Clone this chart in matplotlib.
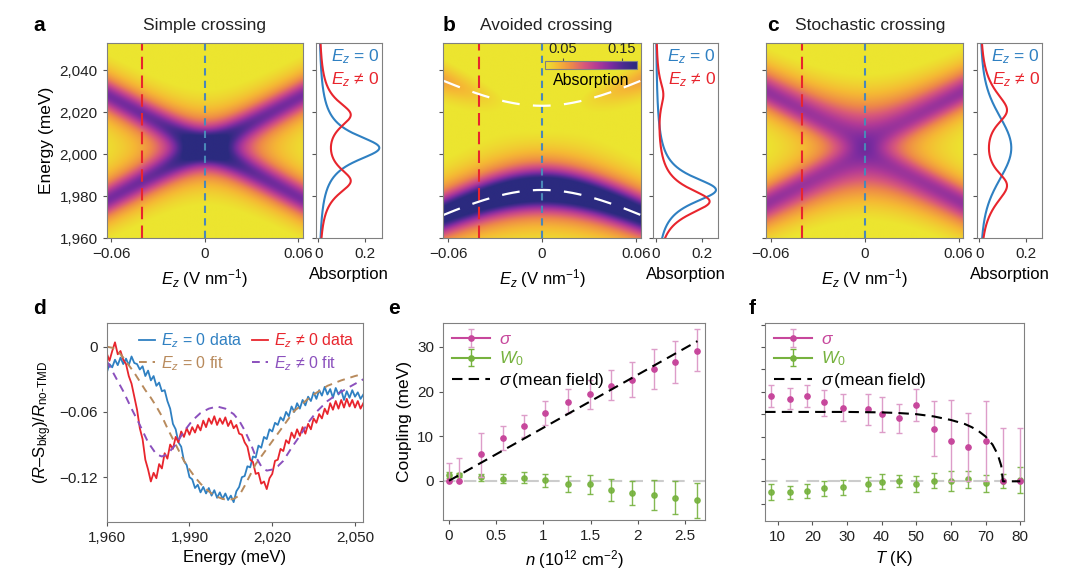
import numpy as np
import matplotlib
matplotlib.use('Agg')
import matplotlib.pyplot as plt
from matplotlib.colors import LinearSegmentedColormap
from matplotlib.ticker import FuncFormatter

plt.rcParams['font.family'] = ['Liberation Sans', 'DejaVu Sans']
plt.rcParams['mathtext.fontset'] = 'custom'
plt.rcParams['mathtext.rm'] = 'Liberation Sans'
plt.rcParams['mathtext.it'] = 'Liberation Sans:italic'
plt.rcParams['mathtext.bf'] = 'Liberation Sans:bold'
plt.rcParams['font.size'] = 11
plt.rcParams['axes.edgecolor'] = '#808080'
plt.rcParams['axes.linewidth'] = 0.8
plt.rcParams['xtick.color'] = '#555555'
plt.rcParams['ytick.color'] = '#555555'
plt.rcParams['xtick.labelcolor'] = '#222222'
plt.rcParams['ytick.labelcolor'] = '#222222'

# ---- model parameters for the absorption maps (a-c)
E0 = 2003.0          # crossing energy (meV)
stark = 395.0        # Stark shift (meV per V/nm)
gamma = 8.0          # half linewidth (meV)
amp = 0.13           # peak absorption of one exciton
J_avoided = 20.0     # coupling, avoided crossing (meV)
sigma_stoch = 12.0   # spread of the coupling, stochastic crossing (meV)
ez_cut = -0.04       # field of the red cut (V/nm)
ez_lim = (-0.063, 0.063)
e_lim = (1960, 2053)
abs_vmin, abs_vmax = 0.02, 0.175

# ---- panel d: reflectance spectra
d_energy = list(range(1960, 2054))
d_blue = [-0.024, -0.016, -0.019, -0.012, -0.017, -0.010, -0.016, -0.011, -0.017, -0.009,
          -0.015, -0.016, -0.021, -0.018, -0.027, -0.022, -0.031, -0.027, -0.036, -0.033,
          -0.041, -0.040, -0.050, -0.057, -0.071, -0.076, -0.088, -0.092, -0.105, -0.109,
          -0.120, -0.122, -0.130, -0.127, -0.134, -0.129, -0.135, -0.130, -0.137, -0.132,
          -0.139, -0.134, -0.140, -0.135, -0.141, -0.137, -0.143, -0.133, -0.129, -0.120,
          -0.119, -0.110, -0.111, -0.101, -0.102, -0.091, -0.093, -0.083, -0.085, -0.076,
          -0.078, -0.070, -0.072, -0.065, -0.068, -0.060, -0.064, -0.055, -0.060, -0.052,
          -0.057, -0.049, -0.054, -0.046, -0.050, -0.042, -0.048, -0.040, -0.045, -0.037,
          -0.044, -0.039, -0.047, -0.038, -0.044, -0.040, -0.049, -0.041, -0.047, -0.040,
          -0.046, -0.042, -0.048, -0.044]
d_red = [-0.006, -0.013, -0.004, 0.004, -0.007, -0.004, -0.012, -0.016, -0.027, -0.034,
         -0.046, -0.058, -0.075, -0.085, -0.104, -0.113, -0.124, -0.116, -0.121, -0.108,
         -0.112, -0.098, -0.103, -0.090, -0.094, -0.083, -0.088, -0.078, -0.083, -0.075,
         -0.081, -0.074, -0.079, -0.072, -0.077, -0.068, -0.074, -0.066, -0.071, -0.064,
         -0.072, -0.066, -0.071, -0.065, -0.073, -0.068, -0.075, -0.072, -0.080, -0.081,
         -0.088, -0.092, -0.104, -0.106, -0.117, -0.116, -0.126, -0.124, -0.131, -0.121,
         -0.117, -0.105, -0.104, -0.094, -0.096, -0.086, -0.089, -0.079, -0.084, -0.076,
         -0.082, -0.074, -0.080, -0.071, -0.076, -0.066, -0.070, -0.062, -0.066, -0.057,
         -0.062, -0.052, -0.058, -0.050, -0.057, -0.049, -0.056, -0.048, -0.055, -0.049,
         -0.056, -0.050, -0.057, -0.052]
fit0_energy = [1960, 1962, 1964, 1966, 1968, 1970, 1972, 1974, 1976, 1978, 1980, 1982, 1984,
               1986, 1988, 1990, 1992, 1994, 1996, 1998, 2000, 2002, 2004, 2006, 2008, 2010,
               2012, 2014, 2016, 2018, 2020, 2022, 2024, 2026, 2028, 2030, 2032, 2035, 2040,
               2045, 2050, 2053]
fit0 = [0.0, -0.001, -0.004, -0.010, -0.017, -0.024, -0.032, -0.040, -0.047, -0.055, -0.064,
        -0.075, -0.085, -0.095, -0.105, -0.113, -0.120, -0.126, -0.131, -0.135, -0.138, -0.140,
        -0.141, -0.140, -0.137, -0.128, -0.118, -0.108, -0.101, -0.094, -0.087, -0.080, -0.073,
        -0.066, -0.059, -0.055, -0.050, -0.044, -0.036, -0.031, -0.027, -0.025]
fit1_energy = [1960, 1963, 1966, 1969, 1972, 1975, 1978, 1980, 1982, 1985, 1988, 1991, 1994,
               1997, 2000, 2003, 2006, 2008, 2010, 2012, 2014, 2016, 2018, 2020, 2022, 2024,
               2027, 2030, 2033, 2036, 2040, 2044, 2048, 2053]
fit1 = [-0.013, -0.027, -0.041, -0.057, -0.072, -0.088, -0.099, -0.101, -0.099, -0.090, -0.078,
        -0.068, -0.061, -0.057, -0.055, -0.057, -0.062, -0.068, -0.077, -0.088, -0.101, -0.110,
        -0.114, -0.113, -0.110, -0.105, -0.093, -0.082, -0.070, -0.060, -0.050, -0.043, -0.037,
        -0.030]

# ---- panel e: coupling vs density
e_n = [0, 0.11, 0.34, 0.57, 0.79, 1.02, 1.26, 1.49, 1.71, 1.94, 2.17, 2.39, 2.62]
e_sigma = [0, 0, 6.0, 9.65, 12.2, 15.3, 17.7, 19.4, 21.3, 22.7, 25.0, 26.7, 29.2]
e_sigma_lo = [0, 0, 5.1, 2.65, 2.3, 2.8, 2.6, 3.4, 3.3, 3.9, 4.5, 4.7, 4.7]
e_sigma_hi = [4.0, 5.0, 4.8, 2.65, 2.5, 2.5, 2.9, 3.3, 3.5, 3.9, 4.5, 4.7, 4.8]
e_w0 = [1.3, 1.3, 0.75, 0.45, 0.7, 0.15, -0.7, -0.8, -2.1, -2.7, -3.2, -3.8, -4.4]
e_w0_err = [0.6, 0.5, 0.8, 1.0, 1.2, 1.45, 1.8, 2.2, 2.4, 2.7, 3.35, 3.7, 4.0]
e_mf_n = [0, 2.63]
e_mf_sigma = [0, 31.3]

# ---- panel f: coupling vs temperature
f_T = [8, 13.5, 18.6, 23.5, 29, 36, 40, 45, 50, 55, 60, 65, 70, 75, 80]
f_sigma = [19.0, 18.5, 19.0, 17.65, 16.45, 16.1, 15.0, 14.1, 17.05, 11.75, 9.1, 7.6, 9.0, 0, 0]
f_sigma_lo = [2.4, 2.4, 2.4, 3.0, 3.05, 3.45, 3.9, 3.25, 3.55, 6.15, 9.1, 7.6, 9.0, 0, 0]
f_sigma_hi = [2.6, 2.4, 2.5, 2.85, 3.0, 3.4, 3.9, 3.2, 3.55, 6.25, 9.15, 7.7, 9.0, 12.0, 12.0]
f_w0 = [-2.4, -2.4, -2.2, -1.6, -1.3, -0.6, -0.1, 0.1, -0.6, 0.15, 0.0, 0.45, -0.45, 0.0, 0.3]
f_w0_err = [1.7, 1.45, 1.6, 1.7, 1.65, 1.65, 1.7, 1.4, 1.8, 1.7, 2.2, 1.9, 1.95, 1.6, 3.0]
f_mf_T = [6.4, 20, 30, 40, 45, 50, 55, 60, 64, 66, 68, 70, 72, 73.5, 74.5, 75, 80]
f_mf_sigma = [15.5, 15.5, 15.5, 15.4, 15.25, 15.0, 14.5, 13.7, 12.8, 12.1, 11.2, 10.0, 8.2,
              6.0, 3.5, 0, 0]

# colours
BLUE = '#2f80c2'
RED = '#e8252d'
BROWN = '#b88a5c'
PURPLE = '#8b50bd'
PINK = '#c7479c'
GREEN = '#76b23e'
cmap = LinearSegmentedColormap.from_list('absn', ['#ece52f', '#f5b834', '#ee8a48', '#d8587a',
                                                  '#b23a96', '#7e2ca0', '#4a2a90', '#2b2a7f'])


def absorption(ez, energy, J):
    split = np.hypot(stark * ez, J)
    Jb = J * np.ones_like(split)
    ratio = np.divide(Jb, split, out=np.zeros_like(split), where=split > 0)
    lo = (1 + ratio) * amp / (1 + ((energy - (E0 - split)) / gamma) ** 2)
    hi = (1 - ratio) * amp / (1 + ((energy - (E0 + split)) / gamma) ** 2)
    return lo + hi


def panel_map(kind, ez, energy):
    if kind == 'simple':
        return absorption(ez, energy, 0.0)
    if kind == 'avoided':
        return absorption(ez, energy, J_avoided)
    J = np.linspace(-4 * sigma_stoch, 4 * sigma_stoch, 81)[:, None, None]
    w = np.exp(-0.5 * (J / sigma_stoch) ** 2)
    w = w / w.sum()
    return (w * absorption(ez, energy, J)).sum(axis=0)


def fmt_num(v, _=None):
    if abs(v) < 1e-12:
        return '0'
    s = '{:g}'.format(v)
    return s.replace('-', '\u2212')


comma_fmt = FuncFormatter(lambda v, _: '{:,.0f}'.format(v))
LAB = 12

fig = plt.figure(figsize=(10.8, 5.7), dpi=100)

ez = np.linspace(ez_lim[0], ez_lim[1], 300)[None, :]
energy = np.linspace(e_lim[0], e_lim[1], 400)[:, None]
energy_1d = energy[:, 0]

heat_pos = [[0.0988, 0.5819, 0.1815, 0.3432], [0.4105, 0.5819, 0.1828, 0.3432],
            [0.7093, 0.5819, 0.1827, 0.3432]]
side_pos = [[0.2923, 0.5819, 0.0611, 0.3432], [0.6044, 0.5819, 0.0607, 0.3432],
            [0.9043, 0.5819, 0.0607, 0.3432]]
kinds = ['simple', 'avoided', 'stochastic']
titles = ['Simple crossing', 'Avoided crossing', 'Stochastic crossing']
letters = ['a', 'b', 'c']
title_x = [0.189, 0.444, 0.736]
title_ha = ['center', 'left', 'left']
letter_x = [0.031, 0.410, 0.710]

for i, kind in enumerate(kinds):
    ax = fig.add_axes(heat_pos[i])
    Z = panel_map(kind, ez, energy)
    im = ax.imshow(Z, extent=[ez_lim[0], ez_lim[1], e_lim[0], e_lim[1]], origin='lower',
                   aspect='auto', cmap=cmap, vmin=abs_vmin, vmax=abs_vmax,
                   interpolation='bilinear')
    ax.axvline(ez_cut, color=RED, lw=1.5, dashes=(6, 3))
    ax.axvline(0, color='#4a88b8', lw=1.5, dashes=(3.5, 2.5))
    if kind == 'avoided':
        ez_line = np.linspace(ez_lim[0], ez_lim[1], 200)
        br = np.hypot(stark * ez_line, J_avoided)
        ax.plot(ez_line, E0 + br, color='white', lw=1.6, dashes=(8, 6))
        ax.plot(ez_line, E0 - br, color='white', lw=1.6, dashes=(8, 6))
        cax = fig.add_axes([0.5046, 0.8784, 0.0849, 0.0151])
        cb = fig.colorbar(im, cax=cax, orientation='horizontal', ticks=[0.05, 0.15])
        cax.xaxis.set_ticks_position('top')
        cax.xaxis.set_major_formatter(FuncFormatter(fmt_num))
        cax.tick_params(length=2.5, labelsize=10.5, pad=1)
        cb.outline.set_linewidth(0.8)
        cax.text(0.5, -0.45, 'Absorption', transform=cax.transAxes, ha='center', va='top',
                 fontsize=11.5)
    ax.set_xlim(ez_lim)
    ax.set_ylim(e_lim)
    ax.set_xticks([-0.06, 0, 0.06])
    ax.xaxis.set_major_formatter(FuncFormatter(fmt_num))
    ax.set_yticks([1960, 1980, 2000, 2020, 2040])
    if i == 0:
        ax.yaxis.set_major_formatter(comma_fmt)
        ax.set_ylabel('Energy (meV)', fontsize=LAB + 0.5)
    else:
        ax.set_yticklabels([])
    ax.set_xlabel(r'$E_z$ (V nm$^{-1}$)', fontsize=LAB)
    ax.tick_params(length=3)

    sax = fig.add_axes(side_pos[i])
    spec0 = panel_map(kind, np.array([[0.0]]), energy)[:, 0]
    spec1 = panel_map(kind, np.array([[ez_cut]]), energy)[:, 0]
    sax.plot(spec0, energy_1d, color=BLUE, lw=1.5)
    sax.plot(spec1, energy_1d, color=RED, lw=1.5)
    sax.set_ylim(e_lim)
    sax.set_xlim(-0.012, 0.27)
    sax.set_xticks([0, 0.2])
    sax.xaxis.set_major_formatter(FuncFormatter(fmt_num))
    sax.set_yticks([1960, 1980, 2000, 2020, 2040])
    sax.set_yticklabels([])
    sax.tick_params(length=3)
    sax.set_xlabel('Absorption', fontsize=LAB)
    sax.text(0.97, 0.975, r'$E_z$ = 0', color=BLUE, transform=sax.transAxes, ha='right',
             va='top', fontsize=12.5)
    sax.text(0.97, 0.86, r'$E_z$ ≠ 0', color=RED, transform=sax.transAxes, ha='right',
             va='top', fontsize=12.5)

    fig.text(letter_x[i], 0.956, letters[i], fontsize=15, fontweight='bold', va='center')
    fig.text(title_x[i], 0.956, titles[i], fontsize=12.5, va='center', ha=title_ha[i],
             color='#222222')

# ---- panel d
ax = fig.add_axes([0.0988, 0.0847, 0.2376, 0.3481])
h1, = ax.plot(d_energy, d_blue, color=BLUE, lw=1.3, label=r'$E_z$ = 0 data')
h2, = ax.plot(d_energy, d_red, color=RED, lw=1.3, label=r'$E_z$ ≠ 0 data')
h3, = ax.plot(fit0_energy, fit0, color=BROWN, lw=1.4, dashes=(4, 3), label=r'$E_z$ = 0 fit')
h4, = ax.plot(fit1_energy, fit1, color=PURPLE, lw=1.4, dashes=(4, 3), label=r'$E_z$ ≠ 0 fit')
ax.set_xlim(1960, 2053)
ax.set_ylim(-0.161, 0.0215)
ax.set_xticks([1960, 1990, 2020, 2050])
ax.xaxis.set_major_formatter(comma_fmt)
ax.set_yticks([0, -0.06, -0.12])
ax.yaxis.set_major_formatter(FuncFormatter(fmt_num))
ax.tick_params(length=3)
ax.set_xlabel('Energy (meV)', fontsize=LAB)
ax.set_ylabel(r'($R$–S$_{\rm bkg}$)/$R_{\rm no‐TMD}$', fontsize=LAB)
leg = ax.legend(handles=[h1, h3, h2, h4], ncol=2, loc='upper right', frameon=False,
                fontsize=11.5, handlelength=1.0, columnspacing=0.6, handletextpad=0.4,
                borderaxespad=0.1, labelspacing=0.25)
for t, c in zip(leg.get_texts(), [BLUE, BROWN, RED, PURPLE]):
    t.set_color(c)
fig.text(0.031, 0.458, 'd', fontsize=15, fontweight='bold', va='center')


def coupling_axes(ax, x, sig, sig_err, w0, w0_err, mf_x, mf_y):
    ax.axhline(0, color='#cccccc', lw=1.5, dashes=(6, 4), zorder=0)
    ax.errorbar(x, w0, yerr=w0_err, fmt='o', ms=3.8, color=GREEN, ecolor=GREEN,
                elinewidth=1, capsize=2.5, capthick=1, alpha=0.9, zorder=2)
    ax.errorbar(x, sig, yerr=sig_err, fmt='o', ms=3.8, color=PINK, ecolor='#dd9dc9',
                elinewidth=1, capsize=2.5, capthick=1, zorder=3)
    ax.plot(mf_x, mf_y, color='black', lw=1.5, dashes=(5, 3), zorder=4)
    hs = ax.errorbar([np.nan], [np.nan], yerr=[np.nan], fmt='o-', ms=3.8, color=PINK,
                     ecolor='#dd9dc9', elinewidth=1, capsize=2.5, lw=1.5)
    hw = ax.errorbar([np.nan], [np.nan], yerr=[np.nan], fmt='o-', ms=3.8, color=GREEN,
                     ecolor=GREEN, elinewidth=1, capsize=2.5, lw=1.5)
    hm, = ax.plot([], [], color='black', lw=1.5, dashes=(5, 3))
    leg = ax.legend([hs, hw, hm], [r'$\sigma$', r'$W_0$', r'$\sigma\,$(mean field)'],
                    loc='upper left', frameon=False, fontsize=12.5, handlelength=2.2,
                    borderaxespad=0.1, labelspacing=0.15, handletextpad=0.5)
    for t, c in zip(leg.get_texts(), [PINK, GREEN, 'black']):
        t.set_color(c)
    ax.set_ylim(-8.8, 35.3)
    ax.tick_params(length=3)


# ---- panel e
ax = fig.add_axes([0.4105, 0.0877, 0.2423, 0.3451])
coupling_axes(ax, e_n, e_sigma, [e_sigma_lo, e_sigma_hi], e_w0, e_w0_err, e_mf_n, e_mf_sigma)
ax.set_xlim(-0.06, 2.71)
ax.set_xticks([0, 0.5, 1, 1.5, 2, 2.5])
ax.xaxis.set_major_formatter(FuncFormatter(fmt_num))
ax.set_yticks([0, 10, 20, 30])
ax.set_xlabel(r'$n$ (10$^{12}$ cm$^{-2}$)', fontsize=LAB)
ax.set_ylabel('Coupling (meV)', fontsize=LAB + 0.5)
fig.text(0.359, 0.458, 'e', fontsize=15, fontweight='bold', va='center')

# ---- panel f
ax = fig.add_axes([0.7083, 0.0865, 0.2398, 0.3463])
coupling_axes(ax, f_T, f_sigma, [f_sigma_lo, f_sigma_hi], f_w0, f_w0_err, f_mf_T, f_mf_sigma)
ax.set_xlim(6.35, 81.06)
ax.set_xticks([10, 20, 30, 40, 50, 60, 70, 80])
ax.set_yticks([-5, 0, 5, 10, 15, 20, 25, 30, 35])
ax.set_yticklabels([])
ax.set_xlabel(r'$T$ (K)', fontsize=LAB)
fig.text(0.693, 0.458, 'f', fontsize=15, fontweight='bold', va='center')

fig.savefig('out.png', dpi=100)
